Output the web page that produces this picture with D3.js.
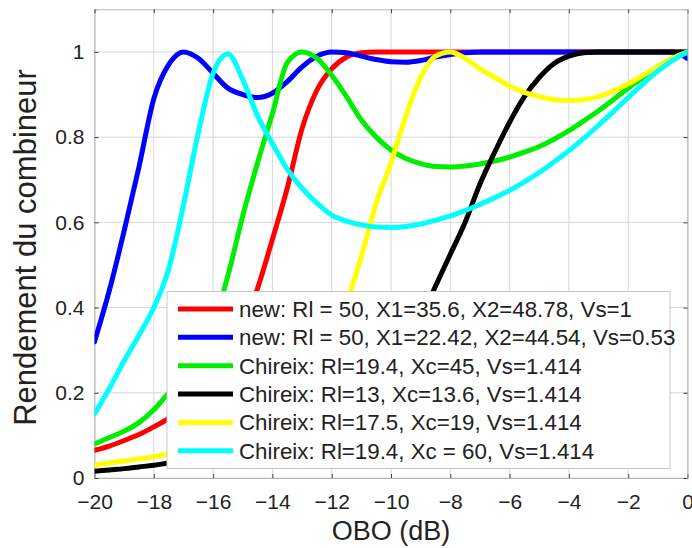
<!DOCTYPE html>
<html><head><meta charset="utf-8">
<script src="https://cdn.jsdelivr.net/npm/d3@7"></script>
<style>
html,body{margin:0;padding:0;background:#fff;}
text{font-family:"Liberation Sans",Arial,sans-serif;fill:#222;}
</style></head>
<body><svg id="chart" width="692" height="548"></svg>
<script>
const obo = [-20,-19.5,-19,-18.5,-18,-17.5,-17,-16.5,-16,-15.5,-15,-14.5,-14,-13.5,-13,-12.5,-12,-11.5,-11,-10.5,-10,-9.5,-9,-8.5,-8,-7.5,-7,-6.5,-6,-5.5,-5,-4.5,-4,-3.5,-3,-2.5,-2,-1.5,-1,-0.5,0];

const newVs1 = [0.065,0.075,0.088,0.102,0.12,0.14,0.165,0.195,0.235,0.285,0.35,0.445,0.56,0.68,0.82,0.91,0.96,0.988,0.998,1,1,1,1,1,1,1,1,1,1,1,1,1,1,1,1,1,1,1,1,1,1];
const newVs053 = [0.32,0.44,0.58,0.73,0.89,0.97,1.0,0.985,0.95,0.915,0.9,0.893,0.903,0.93,0.965,0.99,1.0,0.998,0.99,0.982,0.977,0.976,0.98,0.988,0.994,0.998,1,1,1,1,1,1,1,1,1,1,1,1,1,1,0.985];
const chireixXc45 = [0.08,0.095,0.11,0.13,0.16,0.2,0.24,0.29,0.36,0.475,0.615,0.74,0.855,0.975,1.0,0.985,0.945,0.895,0.84,0.8,0.77,0.75,0.738,0.731,0.73,0.732,0.737,0.744,0.753,0.765,0.778,0.795,0.815,0.838,0.862,0.888,0.915,0.94,0.965,0.985,1.0];
const chireixXc13 = [0.016,0.019,0.022,0.026,0.03,0.035,0.039,0.043,0.048,0.053,0.059,0.066,0.074,0.084,0.096,0.11,0.127,0.148,0.175,0.21,0.255,0.31,0.375,0.45,0.525,0.6,0.69,0.765,0.835,0.895,0.94,0.973,0.99,0.998,1,1,1,1,1,1,1];
const chireixXc19 = [0.03,0.035,0.04,0.045,0.05,0.057,0.065,0.072,0.079,0.086,0.095,0.105,0.12,0.14,0.17,0.22,0.3,0.41,0.52,0.645,0.74,0.85,0.94,0.99,1.0,0.985,0.96,0.94,0.92,0.905,0.895,0.888,0.886,0.888,0.895,0.908,0.925,0.945,0.965,0.985,1.0];
const chireixXc60 = [0.15,0.21,0.275,0.335,0.4,0.49,0.64,0.81,0.95,0.995,0.935,0.85,0.785,0.725,0.68,0.645,0.617,0.603,0.594,0.589,0.588,0.59,0.596,0.605,0.615,0.628,0.642,0.658,0.675,0.695,0.717,0.742,0.768,0.797,0.828,0.86,0.893,0.925,0.955,0.98,1.0];

const seriesNames = [
  "new: Rl = 50, X1=35.6, X2=48.78, Vs=1",
  "new: Rl = 50, X1=22.42, X2=44.54, Vs=0.53",
  "Chireix: Rl=19.4, Xc=45, Vs=1.414",
  "Chireix: Rl=13, Xc=13.6, Vs=1.414",
  "Chireix: Rl=17.5, Xc=19, Vs=1.414",
  "Chireix: Rl=19.4, Xc = 60, Vs=1.414"
];
const seriesColors = ["#ff0000","#0000ff","#00ee00","#000000","#ffff00","#00ffff"];
const seriesValues = [newVs1,newVs053,chireixXc45,chireixXc13,chireixXc19,chireixXc60];

const xTicks = [-20,-18,-16,-14,-12,-10,-8,-6,-4,-2,0];
const yTicks = [0,0.2,0.4,0.6,0.8,1];
const xTitle = "OBO (dB)";
const yTitle = "Rendement du combineur";

const svg = d3.select("#chart");
const L = 94.5, R = 687.5, T = 9.3, B = 478;
const x = d3.scaleLinear().domain([-20,0]).range([L,R]);
const y = d3.scaleLinear().domain([0,1.1]).range([B,T]);

svg.append("clipPath").attr("id","clip").append("rect")
  .attr("x",L).attr("y",T).attr("width",R-L).attr("height",B-T);

// grid
const grid = svg.append("g");
grid.selectAll(".gx").data(xTicks).join("line")
  .attr("x1",d=>x(d)).attr("x2",d=>x(d)).attr("y1",T).attr("y2",B)
  .attr("stroke","#d6d6d6").attr("stroke-width",1);
grid.selectAll(".gy").data(yTicks).join("line")
  .attr("y1",d=>y(d)).attr("y2",d=>y(d)).attr("x1",L).attr("x2",R)
  .attr("stroke","#d6d6d6").attr("stroke-width",1);

// axes
const xAxis = svg.append("g").attr("transform",`translate(0,${B})`)
  .call(d3.axisBottom(x).tickValues(xTicks).tickSize(-4).tickPadding(16).tickFormat(d3.format("d")));
const yAxis = svg.append("g").attr("transform",`translate(${L},0)`)
  .call(d3.axisLeft(y).tickValues(yTicks).tickSize(-4).tickPadding(10).tickFormat(d=>d===0?"0":d===1?"1":d3.format(".1f")(d)));
const xTop = svg.append("g").attr("transform",`translate(0,${T})`)
  .call(d3.axisTop(x).tickValues(xTicks).tickSize(-4).tickFormat(""));
const yRight = svg.append("g").attr("transform",`translate(${R},0)`)
  .call(d3.axisRight(y).tickValues(yTicks).tickSize(-4).tickFormat(""));
[xAxis,yAxis,xTop,yRight].forEach(g=>{
  g.select(".domain").attr("stroke","#b5b5b5");
  g.selectAll(".tick line").attr("stroke","#444");
  g.selectAll(".tick text").attr("font-size",21).attr("fill","#222")
    .style("font-family","'Liberation Sans',Arial,sans-serif");
});

// lines
const line = d3.line().x((d,i)=>x(obo[i])).y(d=>y(d)).curve(d3.curveMonotoneX);
const plot = svg.append("g").attr("clip-path","url(#clip)");
seriesValues.forEach((vals,k)=>{
  plot.append("path").datum(vals).attr("d",line)
    .attr("fill","none").attr("stroke",seriesColors[k]).attr("stroke-width",5)
    .attr("stroke-linejoin","round").attr("stroke-linecap","round");
});

// legend
const lg = svg.append("g");
lg.append("rect").attr("x",167).attr("y",291.5).attr("width",503).attr("height",177)
  .attr("fill","#fff").attr("stroke","#c8c8c8").attr("stroke-width",1);
seriesNames.forEach((name,k)=>{
  const yy = 309 + k*28.35;
  lg.append("line").attr("x1",178).attr("x2",233).attr("y1",yy).attr("y2",yy)
    .attr("stroke",seriesColors[k]).attr("stroke-width",5);
  lg.append("text").attr("x",239).attr("y",yy).attr("dy","0.35em")
    .attr("font-size",22.3).text(name);
});

// titles
svg.append("text").attr("x",(L+R)/2).attr("y",540).attr("text-anchor","middle")
  .attr("font-size",27).text(xTitle);
svg.append("text").attr("transform",`translate(36,247.5) rotate(-90)`)
  .attr("text-anchor","middle").attr("font-size",31).text(yTitle);
</script></body></html>
